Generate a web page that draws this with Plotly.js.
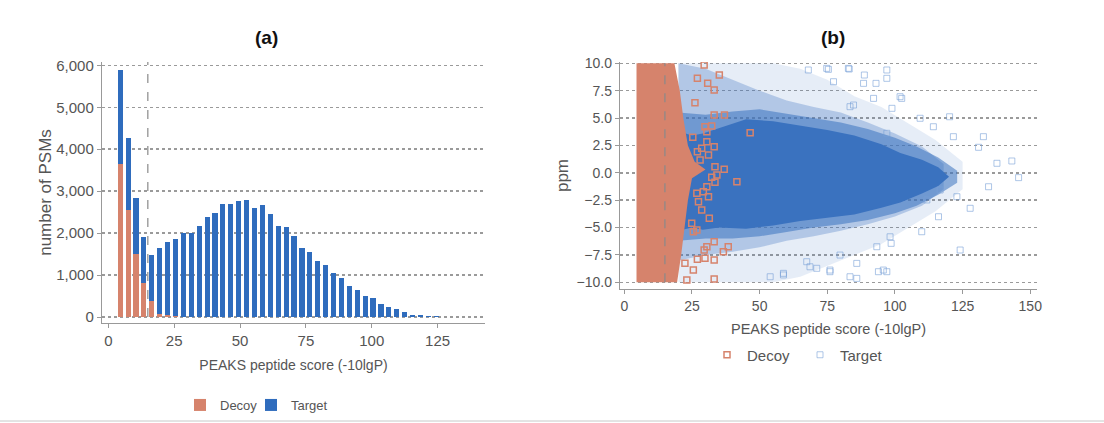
<!DOCTYPE html>
<html><head><meta charset="utf-8">
<script src="https://cdn.plot.ly/plotly-3.0.1.min.js"></script>
<style>html,body{margin:0;padding:0;background:#fff}#chart{width:1104px;height:423px}</style>
</head><body><div id="chart"></div>
<script>
// ---------- Panel (a): PSM score histogram ----------
const scoreBins = [4.5,7.5,10.5,13.5,16.5,19.5,22.5,25.5,28.5,31.5,34.5,37.5,40.5,43.5,46.5,49.5,52.5,55.5,58.5,61.5,64.5,67.5,70.5,73.5,76.5,79.5,82.5,85.5,88.5,91.5,94.5,97.5,100.5,103.5,106.5,109.5,112.5,115.5,118.5,121.5,124.5,127.5];
const decoyCounts = [3660,2550,1500,810,375,75,40,15,5,0,0,0,0,0,0,0,0,0,0,0,0,0,0,0,0,0,0,0,0,0,0,0,0,0,0,0,0,0,0,0,0,0];
const targetCounts = [2240,1720,1345,1095,1110,1580,1760,1840,2005,2010,2170,2375,2470,2685,2685,2765,2790,2590,2670,2450,2180,2155,1935,1655,1555,1340,1245,1045,925,745,650,505,450,310,250,190,110,55,38,15,14,10];
const countTicks = [0,1000,2000,3000,4000,5000,6000];
const scoreTicksA = [0,25,50,75,100,125];
const fdrThreshold = 15;

// ---------- Panel (b): ppm error vs score ----------
const ppmTicks = [-10,-7.5,-5,-2.5,0,2.5,5,7.5,10];
const scoreTicksB = [0,25,50,75,100,125,150];
// decoy dense band: left edge at min score, right edge per ppm
const decoyMinScore = 4.5;
const decoyEdgePpm = [10,7.5,5,2.5,1,0.3,-0.5,-2.5,-5,-7.5,-10];
const decoyEdgeScore = [18.5,20.5,21.8,23.5,26,30,25,23.5,22.3,21,19.5];
// decoy individual squares beyond the band
const decoyOutScore = [29.5,35.1,27.0,30.8,33.2,26.1,33.2,37.0,29.8,32.3,30.5,46.5,25.3,30.5,28.6,33.2,27.0,31.1,28.0,33.5,36.9,34.2,32.3,41.6,33.5,30.5,29.2,26.8,31.1,27.4,28.6,31.4,24.9,26.8,25.5,33.2,30.5,29.5,38.4,36.6,33.2,27.0,29.8,22.4,33.2,23.1,25.5];
const decoyOutPpm = [9.84,8.93,8.63,8.17,7.56,6.40,5.28,5.28,4.21,4.27,3.76,3.66,3.24,2.84,2.24,2.38,1.93,1.63,1.17,0.56,0.32,-0.20,-0.41,-0.81,-0.87,-1.27,-1.72,-1.87,-2.18,-2.64,-3.40,-4.16,-4.61,-5.22,-5.38,-6.29,-6.75,-7.05,-6.75,-7.21,-7.96,-7.90,-7.81,-8.26,-9.70,-9.79,-8.88];
// target dense core envelope
const coreScore = [20,25,29,35,45,55,65,75,85,95,102,110,116,120];
const coreUpper = [3.8,3.4,3.6,4.1,4.9,4.7,4.3,3.9,3.4,2.6,1.8,1.2,0.5,-0.35];
const coreLower = [-5.3,-5.0,-5.2,-5.0,-5.1,-4.8,-4.4,-4.1,-3.8,-3.2,-2.7,-1.9,-1.2,-0.35];
// soft rim around the core
const rimScore = [20,30,40,50,60,70,80,90,100,108,116,123];
const rimUpper = [5.5,5.3,5.6,5.8,5.4,5.0,4.6,4.0,3.2,2.4,1.4,0.2];
const rimLower = [-6.2,-6.0,-6.0,-5.8,-5.4,-5.0,-4.7,-4.3,-3.7,-3.0,-2.0,-0.9];
// target medium-density halo envelope
const midScore = [20,30,40,50,60,70,80,90,100,110,118];
const midUpper = [10,9.5,8.5,7.5,6.6,6.0,5.5,4.6,3.6,2.4,0.8];
const midLower = [-8,-7.5,-7.2,-6.8,-6.2,-5.8,-5.3,-4.7,-4.0,-3.0,-1.5];
// target sparse outer envelope
const outerScore = [20,40,55,65,75,85,95,105,115,125];
const outerUpper = [10,10,10,9.5,8.5,7.0,6.0,4.5,3.0,1.0];
const outerLower = [-10,-10,-10,-9.5,-8.5,-7.5,-6.5,-5.0,-3.5,-1.5];
// target individual squares
const targetOutScore = [68.0,75.4,83.1,88.7,97.0,93.0,102.5,98.9,109.3,114.2,120.2,121.6,130.9,143.2,137.7,145.7,134.6,127.8,124.1,116.1,109.9,98.6,93.9,97.0,85.9,79.7,76.0,71.1,58.8,67.4,88.4,83.4,101.9,77.3,97.0,132.7,116.7,111.8,122.9,95.7,83.4,85.9,76.0,68.6,58.8,53.9,98.2,93.3,82.8,97.0,92.1,74.8,84.7];
const targetOutPpm = [9.39,9.45,9.48,8.93,8.63,8.17,6.80,5.89,4.98,4.21,5.12,3.30,2.33,1.08,0.87,-0.44,-1.27,-3.24,-7.05,-4.01,-5.38,-6.44,-9.03,-9.03,-9.64,-7.51,-9.03,-8.72,-9.18,-8.12,8.17,6.04,6.95,8.32,3.61,3.30,-1.57,-2.48,-2.18,-8.88,-9.49,-8.27,-8.88,-8.58,-9.33,-9.49,-5.84,-6.75,9.54,9.39,6.80,9.54,6.19];

const DECOY = '#D6836C';
const TARGET = '#2F6CBD';
const CORE = '#3A72BF';
const GRID = '#9a9a9a';
const TXT = '#555555';
const FONT = 'Liberation Sans, Arial, sans-serif';

function band(xs, up, lo) {
  return { x: xs.concat(xs.slice().reverse()), y: up.concat(lo.slice().reverse()) };
}
const outerB = band(outerScore, outerUpper, outerLower);
const midB = band(midScore, midUpper, midLower);
const rimB = band(rimScore, rimUpper, rimLower);
const coreB = band(coreScore, coreUpper, coreLower);
const decoyB = {
  x: [decoyMinScore].concat(decoyEdgeScore, [decoyMinScore]),
  y: [decoyEdgePpm[0]].concat(decoyEdgePpm, [decoyEdgePpm[decoyEdgePpm.length-1]])
};

function fillTrace(b, color) {
  return {type:'scatter', mode:'lines', x:b.x, y:b.y, fill:'toself', fillcolor:color, line:{width:0},
    xaxis:'x2', yaxis:'y2', showlegend:false, hoverinfo:'skip'};
}

const traces = [
  // panel a
  {type:'bar', x:scoreBins, y:decoyCounts, name:'Decoy', marker:{color:DECOY}, xaxis:'x', yaxis:'y', legend:'legend', hoverinfo:'x+y'},
  {type:'bar', x:scoreBins, y:targetCounts, name:'Target', marker:{color:TARGET}, xaxis:'x', yaxis:'y', legend:'legend3', hoverinfo:'x+y'},
  {type:'scatter', mode:'lines', x:[fdrThreshold,fdrThreshold], y:[0,6080], line:{color:'#8a8a8a', width:1.2, dash:'dash'}, xaxis:'x', yaxis:'y', showlegend:false, hoverinfo:'skip'},
  // panel b: target density
  fillTrace(outerB, 'rgba(58,114,191,0.13)'),
  fillTrace(midB, 'rgba(58,114,191,0.30)'),
  fillTrace(rimB, 'rgba(58,114,191,0.55)'),
  fillTrace(coreB, CORE),
  {type:'scatter', mode:'markers', x:targetOutScore, y:targetOutPpm, name:'Target', legend:'legend4',
    marker:{symbol:'square-open', size:6, color:'rgba(120,160,215,0.6)', line:{width:1}}, xaxis:'x2', yaxis:'y2'},
  // panel b: decoys
  fillTrace(decoyB, DECOY),
  {type:'scatter', mode:'markers', x:decoyOutScore, y:decoyOutPpm, name:'Decoy', legend:'legend2',
    marker:{symbol:'square-open', size:6, color:DECOY, line:{width:1.5}}, xaxis:'x2', yaxis:'y2'},
  {type:'scatter', mode:'lines', x:[fdrThreshold,fdrThreshold], y:[-10,10], line:{color:'#8a8a8a', width:1.2, dash:'dash'}, xaxis:'x2', yaxis:'y2', showlegend:false, hoverinfo:'skip'}
];

const axisCommon = {
  showline:true, linecolor:'#999', linewidth:1.2, ticks:'outside', ticklen:4, tickcolor:'#999',
  zeroline:false, tickfont:{family:FONT, size:15, color:TXT}
};

function legendAt(px, py, size) {
  return {orientation:'h', x:px/1104, y:(423-py)/423, xanchor:'left', yanchor:'middle',
    font:{family:FONT, size:size, color:TXT}, itemwidth:30, bgcolor:'rgba(0,0,0,0)'};
}

const layout = {
  width:1104, height:423, margin:{l:0,r:0,t:0,b:0},
  paper_bgcolor:'#fff', plot_bgcolor:'#fff',
  font:{family:FONT, color:TXT, size:14},
  barmode:'stack', bargap:0.35,
  xaxis: Object.assign({}, axisCommon, {
    domain:[102/1104, 485/1104], range:[-2.4,143], tickvals:scoreTicksA, showgrid:false, anchor:'y',
    title:{text:'PEAKS peptide score (-10lgP)', font:{family:FONT, size:14, color:TXT}, standoff:12}
  }),
  yaxis: Object.assign({}, axisCommon, {
    domain:[(423-323)/423, (423-62)/423], range:[-143,6080], tickvals:countTicks, tickformat:',d',
    showgrid:true, gridcolor:GRID, griddash:'dot', gridwidth:1.5, anchor:'x',
    title:{text:'number of PSMs', font:{family:FONT, size:17, color:TXT}, standoff:0}
  }),
  xaxis2: Object.assign({}, axisCommon, {
    domain:[620/1104, 1037/1104], range:[-1.6,152.5], tickvals:scoreTicksB, showgrid:false, anchor:'y2',
    tickfont:{family:FONT, size:14, color:TXT},
    title:{text:'PEAKS peptide score (-10lgP)', font:{family:FONT, size:14.5, color:TXT}, standoff:10}
  }),
  yaxis2: Object.assign({}, axisCommon, {
    domain:[(423-289)/423, (423-62)/423], range:[-10.61,10.12], tickvals:ppmTicks, tickformat:'.1f',
    tickfont:{family:FONT, size:14, color:TXT},
    showgrid:true, gridcolor:GRID, griddash:'dot', gridwidth:1.5, anchor:'x2',
    title:{text:'ppm', font:{family:FONT, size:17, color:TXT}, standoff:3}
  }),
  legend: legendAt(180, 405, 13),
  legend3: legendAt(251, 405, 13),
  legend2: legendAt(707, 355, 15),
  legend4: legendAt(800, 355, 15),
  annotations:[
    {text:'<b>(a)</b>', x:253/1104, y:(423-25)/423, xref:'paper', yref:'paper', showarrow:false, font:{family:FONT, size:19, color:'#111'}},
    {text:'<b>(b)</b>', x:847/1104, y:(423-25)/423, xref:'paper', yref:'paper', showarrow:false, font:{family:FONT, size:19, color:'#111'}}
  ],
  shapes:[
    {type:'line', xref:'paper', yref:'paper', x0:0, x1:1, y0:(423-421)/423, y1:(423-421)/423, line:{color:'#c8c8c8', width:1}}
  ]
};

Plotly.newPlot('chart', traces, layout, {displayModeBar:false, staticPlot:true});
</script>
</body></html>
